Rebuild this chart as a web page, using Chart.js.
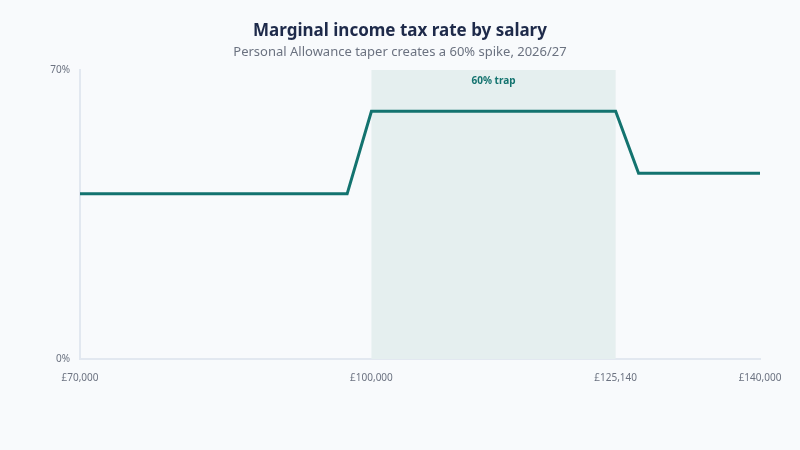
<!DOCTYPE html>
<html>
<head>
<meta charset="utf-8">
<script src="https://cdn.jsdelivr.net/npm/chart.js@4"></script>
<style>
  html, body { margin: 0; padding: 0; background: #f8fafc; }
  #wrap { width: 800px; height: 450px; }
</style>
</head>
<body>
<div id="wrap"><canvas id="taxChart" width="800" height="450"></canvas></div>
<script>
// Salaries and marginal rates
const salaries = [70000, 97500, 100000, 125140, 127500, 140000];
const rates = [40, 40, 60, 60, 45, 45];
const xTicks = [70000, 100000, 125140, 140000];
const yTicks = [0, 70];
const trapBand = [100000, 125140];
const trapLabel = '60% trap';

const teal = '#13736f';
const fontFamily = '"Noto Sans", "Open Sans", sans-serif';

// Shaded band behind the line
const trapPlugin = {
    id: 'trapBand',
    beforeDatasetsDraw(chart) {
        const { ctx, chartArea, scales } = chart;
        const x1 = scales.x.getPixelForValue(trapBand[0]);
        const x2 = scales.x.getPixelForValue(trapBand[1]);
        ctx.save();
        ctx.fillStyle = '#e5efef';
        ctx.fillRect(x1, chartArea.top, x2 - x1, chartArea.bottom - chartArea.top);
        ctx.fillStyle = teal;
        ctx.font = 'bold 10px ' + fontFamily;
        ctx.textAlign = 'center';
        ctx.textBaseline = 'middle';
        ctx.fillText(trapLabel, (x1 + x2) / 2, chartArea.top + 11);
        ctx.restore();
    }
};

new Chart(document.getElementById('taxChart'), {
    type: 'line',
    data: {
        datasets: [{
            data: salaries.map((s, i) => ({ x: s, y: rates[i] })),
            borderColor: teal,
            borderWidth: 3,
            pointRadius: 0,
            tension: 0,
            fill: false
        }]
    },
    options: {
        responsive: false,
        animation: false,
        layout: { padding: { left: 40, right: 40, top: 0, bottom: 0 } },
        plugins: {
            legend: { display: false },
            tooltip: { enabled: false },
            title: {
                display: true,
                text: 'Marginal income tax rate by salary',
                color: '#1e2a4a',
                font: { family: fontFamily, size: 17, weight: 'bold' },
                padding: { top: 21, bottom: 3 }
            },
            subtitle: {
                display: true,
                text: 'Personal Allowance taper creates a 60% spike, 2026/27',
                color: '#6b7280',
                font: { family: fontFamily, size: 13 },
                padding: { top: 0, bottom: 10 }
            }
        },
        scales: {
            x: {
                type: 'linear',
                min: 70000,
                max: 140000,
                afterBuildTicks(scale) { scale.ticks = xTicks.map(v => ({ value: v })); },
                afterFit(scale) { scale.height = 91; },
                grid: { display: false, drawTicks: false },
                border: { display: true, color: '#e2e8f0', width: 2 },
                ticks: {
                    color: '#6b7280',
                    font: { family: fontFamily, size: 10 },
                    padding: 13,
                    maxRotation: 0,
                    autoSkip: false,
                    callback: v => '£' + v.toLocaleString('en-GB')
                }
            },
            y: {
                min: 0,
                max: 70,
                afterBuildTicks(scale) { scale.ticks = yTicks.map(v => ({ value: v })); },
                afterFit(scale) { scale.width = 40; },
                grid: { display: false, drawTicks: false },
                border: { display: true, color: '#e2e8f0', width: 2 },
                ticks: {
                    color: '#6b7280',
                    font: { family: fontFamily, size: 10 },
                    padding: 10,
                    callback: v => v + '%'
                }
            }
        }
    },
    plugins: [trapPlugin]
});
</script>
</body>
</html>
